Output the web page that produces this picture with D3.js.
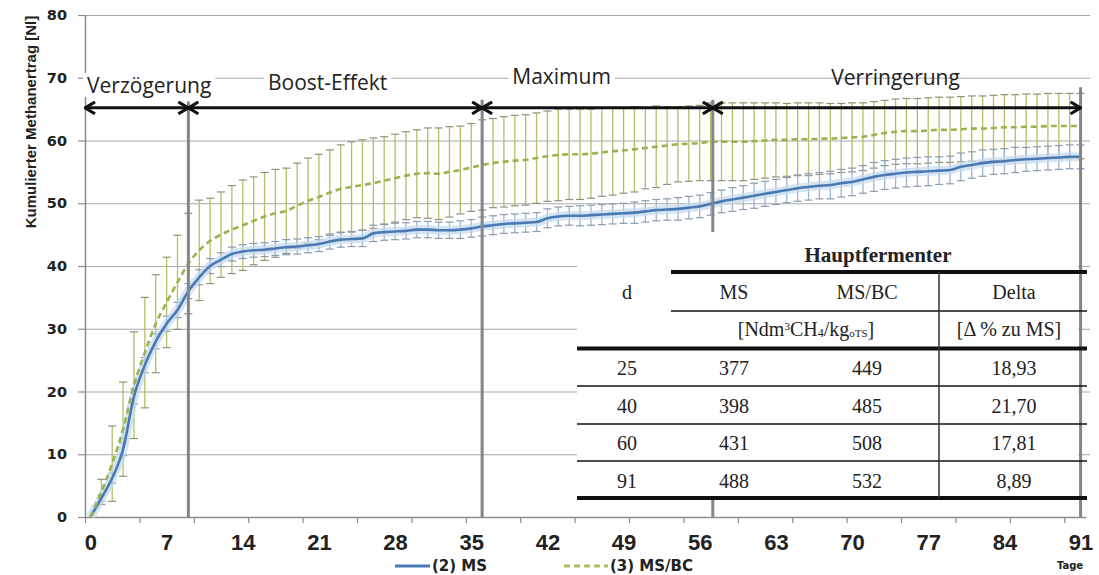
<!DOCTYPE html>
<html>
<head>
<meta charset="utf-8">
<script src="https://cdn.jsdelivr.net/npm/d3@7"></script>
<style>
  body { margin: 0; background: #fff; }
  svg { display: block; }
</style>
</head>
<body>
<div id="chart"></div>
<script>
// --- Data ---
// daily cumulative methane yield [Nl], day 0..91
const msMean = [
  0, 3, 6.2, 10.8, 19.2, 24.2, 28, 30.8, 33, 36,
  38.2, 40, 41, 41.9, 42.3, 42.5, 42.6, 42.8, 43, 43.1,
  43.3, 43.5, 43.9, 44.2, 44.3, 44.4, 45.2, 45.4, 45.5, 45.6,
  45.8, 45.8, 45.7, 45.7, 45.8, 46, 46.3, 46.5, 46.7, 46.8,
  46.9, 47, 47.6, 47.9, 48, 48, 48.1, 48.2, 48.3, 48.4,
  48.5, 48.7, 48.9, 49, 49.1, 49.3, 49.5, 49.9, 50.3, 50.6,
  50.9, 51.2, 51.5, 51.8, 52.1, 52.4, 52.6, 52.8, 52.9, 53.2,
  53.4, 53.8, 54.2, 54.5, 54.7, 54.9, 55, 55.1, 55.2, 55.3,
  55.8, 56.1, 56.4, 56.6, 56.7, 56.9, 57, 57.1, 57.2, 57.3,
  57.4, 57.4
];
const msErr = [
  0, 0.5, 0.8, 1, 1.2, 1.2, 1.2, 1.2, 1.2, 1.2,
  1.2, 1.2, 1.1, 1.1, 1.1, 1.1, 1.1, 1.1, 1.2, 1.2,
  1.2, 1.2, 1.2, 1.2, 1.2, 1.3, 1.3, 1.3, 1.3, 1.3,
  1.3, 1.3, 1.3, 1.3, 1.4, 1.4, 1.5, 1.5, 1.5, 1.5,
  1.5, 1.5, 1.5, 1.5, 1.5, 1.6, 1.6, 1.6, 1.6, 1.6,
  1.7, 1.7, 1.7, 1.7, 1.8, 1.8, 1.8, 1.8, 1.8, 1.9,
  1.9, 2, 2, 2, 2, 2.1, 2.1, 2.1, 2.2, 2.2,
  2.2, 2.2, 2.3, 2.3, 2.3, 2.3, 2.3, 2.3, 2.2, 2.2,
  2.2, 2.1, 2.1, 2, 2, 2, 1.9, 1.9, 1.9, 1.9,
  1.9, 1.9
];
const msbcMean = [
  0, 4, 8.5, 14, 21, 26.2, 30.8, 34.2, 37.4, 40.4,
  42.5, 44, 45, 45.8, 46.5, 47.2, 47.9, 48.4, 48.8, 49.6,
  50.4, 51, 51.7, 52.3, 52.6, 52.9, 53.2, 53.6, 54, 54.4,
  54.7, 54.8, 54.7, 55, 55.3, 55.7, 56.1, 56.4, 56.6, 56.8,
  56.9, 57.2, 57.5, 57.7, 57.8, 57.8, 57.9, 58.1, 58.3, 58.4,
  58.6, 58.8, 59, 59.2, 59.4, 59.5, 59.6, 59.8, 59.8, 59.8,
  59.8, 59.9, 60, 60.1, 60.1, 60.2, 60.2, 60.3, 60.3, 60.4,
  60.5, 60.6, 60.9, 61.2, 61.4, 61.5, 61.5, 61.6, 61.7, 61.7,
  61.8, 61.9, 61.9, 62, 62.1, 62.1, 62.2, 62.2, 62.3, 62.3,
  62.3, 62.3
];
const msbcErr = [
  0, 2, 6, 7.5, 8.5, 8.8, 7.8, 7.2, 7.5, 8,
  8, 6.8, 6.8, 7, 7.2, 7, 7, 7, 6.8, 6.8,
  6.8, 6.8, 6.8, 7, 7.2, 7.2, 7.2, 7, 7, 7,
  7, 7.2, 7.3, 7.2, 7, 7, 7.2, 7.1, 7.2, 7.2,
  7.2, 7.2, 7.2, 7.3, 7.2, 7.2, 7.1, 7, 7, 6.8,
  6.8, 6.5, 6.5, 6.2, 6, 6, 6, 6.2, 6.2, 6.2,
  6.2, 6.1, 6, 5.9, 5.8, 5.8, 5.8, 5.7, 5.6, 5.5,
  5.5, 5.4, 5.3, 5.2, 5.2, 5.2, 5.2, 5.2, 5.2, 5.2,
  5.2, 5.2, 5.2, 5.2, 5.2, 5.2, 5.2, 5.2, 5.2, 5.2,
  5.2, 5.2
];
const xLabels = [0, 7, 14, 21, 28, 35, 42, 49, 56, 63, 70, 77, 84, 91];
const xTickMarks = [-0.5, 4.5, 9.5, 14.5, 19.5, 24.5, 29.5, 34.5, 39.5, 44.5, 49.5, 54.5, 59.5, 64.5, 69.5, 74.5, 79.5, 84.5, 89.5];
const yTicks = [0, 10, 20, 30, 40, 50, 60, 70, 80];
const seriesNames = ['(2) MS', '(3) MS/BC'];

// phases: borders in days, names
const phaseNames = ['Verzögerung', 'Boost-Effekt', 'Maximum', 'Verringerung'];
const phaseBounds = [-0.5, 9, 36, 57.2, 91];
const phaseLineTop = [66.2, 66.5, 66.5, 68.5];

// table
const tableDays = [25, 40, 60, 91];
const tableMS = [377, 398, 431, 488];
const tableMSBC = [449, 485, 508, 532];
const tableDelta = ['18,93', '21,70', '17,81', '8,89'];

// --- Chart ---
const width = 1099, height = 575;
const svg = d3.select('#chart').append('svg')
  .attr('width', width)
  .attr('height', height);
svg.append('rect').attr('width', width).attr('height', height).attr('fill', '#fff');

const x = d3.scaleLinear().domain([-0.5, 91.5]).range([85, 1086]);
const y = d3.scaleLinear().domain([0, 80]).range([517, 15]);
const gridRight = 1090;
const narrow = '"Liberation Sans Narrow", "Arial Narrow", sans-serif';

// gridlines
svg.append('g')
  .attr('transform', 'translate(85,0)')
  .call(d3.axisLeft(y).tickValues(yTicks.filter(v => v > 0)).tickSize(-(gridRight - 85)).tickFormat(''))
  .call(g => g.select('.domain').remove())
  .call(g => g.selectAll('line').attr('stroke', '#a9a9a9').attr('stroke-width', 1.2));

// y axis
svg.append('g')
  .attr('transform', 'translate(85,0)')
  .call(d3.axisLeft(y).tickValues(yTicks).tickSize(7).tickSizeOuter(0).tickPadding(11))
  .call(g => g.select('.domain').attr('stroke', '#8c8c8c').attr('stroke-width', 1.5))
  .call(g => g.selectAll('line').attr('stroke', '#8c8c8c').attr('stroke-width', 1.2))
  .call(g => g.selectAll('text')
    .attr('font-family', '"DejaVu Sans", sans-serif')
    .attr('font-weight', 'bold')
    .attr('font-size', 14.5)
    .attr('fill', '#222'));

svg.append('text')
  .attr('transform', 'translate(36,122) rotate(-90)')
  .attr('text-anchor', 'middle')
  .attr('font-family', narrow)
  .attr('font-weight', 'bold')
  .attr('font-size', 15)
  .attr('fill', '#222')
  .text('Kumulierter Methanertrag [Nl]');

// x axis: tick marks every 5 days, labels every 7 days
svg.append('g')
  .attr('transform', 'translate(0,517)')
  .call(d3.axisBottom(x).tickValues(xTickMarks).tickSize(6).tickSizeOuter(0).tickFormat(''))
  .call(g => g.select('.domain').attr('stroke', '#8c8c8c').attr('stroke-width', 1.5))
  .call(g => g.selectAll('line').attr('stroke', '#8c8c8c').attr('stroke-width', 1.2));

svg.append('g')
  .attr('transform', 'translate(0,517)')
  .call(d3.axisBottom(x).tickValues(xLabels).tickSize(0).tickPadding(17))
  .call(g => g.select('.domain').remove())
  .call(g => g.selectAll('text')
    .attr('font-family', narrow)
    .attr('font-weight', 'bold')
    .attr('font-size', 22)
    .attr('fill', '#222'));

svg.append('text')
  .attr('x', 1070).attr('y', 569)
  .attr('text-anchor', 'middle')
  .attr('font-family', '"DejaVu Sans", sans-serif')
  .attr('font-weight', 'bold')
  .attr('font-size', 10)
  .attr('fill', '#222')
  .text('Tage');

// --- Error bars ---
function drawErrorBars(mean, err, color, capColor) {
  const g = svg.append('g');
  mean.forEach((m, i) => {
    const e = err[i];
    if (!e) return;
    g.append('line')
      .attr('x1', x(i)).attr('x2', x(i))
      .attr('y1', y(m - e)).attr('y2', y(m + e))
      .attr('stroke', color).attr('stroke-width', 1.3);
    [m - e, m + e].forEach(v => {
      g.append('line')
        .attr('x1', x(i) - 4).attr('x2', x(i) + 4)
        .attr('y1', y(v)).attr('y2', y(v))
        .attr('stroke', capColor).attr('stroke-width', 1.2);
    });
  });
}
drawErrorBars(msbcMean, msbcErr, '#b4bf63', '#8e927a');
drawErrorBars(msMean, msErr, '#9cb4cf', '#8a9bb0');

// --- Lines ---
const line = d3.line().x((d, i) => x(i)).y(d => y(d)).curve(d3.curveMonotoneX);
svg.append('path').datum(msMean)
  .attr('fill', 'none').attr('stroke', '#c3d8ee').attr('stroke-width', 9).attr('opacity', 0.7)
  .attr('d', line);
svg.append('path').datum(msMean)
  .attr('fill', 'none').attr('stroke', '#4a78b3').attr('stroke-width', 2.6)
  .attr('d', line);
svg.append('path').datum(msbcMean)
  .attr('fill', 'none').attr('stroke', '#98b44e').attr('stroke-width', 2.6)
  .attr('stroke-dasharray', '6,4')
  .attr('d', line);

// --- Phases ---
phaseBounds.slice(1).forEach((d, i) => {
  svg.append('line')
    .attr('x1', x(d)).attr('x2', x(d))
    .attr('y1', y(phaseLineTop[i])).attr('y2', y(0))
    .attr('stroke', '#858585').attr('stroke-width', 3);
});

svg.append('defs').append('marker')
  .attr('id', 'chev')
  .attr('viewBox', '0 0 12 14')
  .attr('refX', 11).attr('refY', 7)
  .attr('markerWidth', 12).attr('markerHeight', 14)
  .attr('markerUnits', 'userSpaceOnUse')
  .attr('orient', 'auto-start-reverse')
  .append('path')
  .attr('d', 'M1,1 L11,7 L1,13')
  .attr('fill', 'none').attr('stroke', '#111').attr('stroke-width', 3);

phaseNames.forEach((name, i) => {
  svg.append('line')
    .attr('x1', x(phaseBounds[i])).attr('x2', x(phaseBounds[i + 1]))
    .attr('y1', y(65.2)).attr('y2', y(65.2))
    .attr('stroke', '#111').attr('stroke-width', 3)
    .attr('marker-start', 'url(#chev)')
    .attr('marker-end', 'url(#chev)');
});

const labelPos = [{d: 5.4, v: 67.6, bg: true}, {d: 21.8, v: 68.1, bg: true}, {d: 43.3, v: 69.0, bg: true}, {d: 74, v: 68.8, bg: false}];
phaseNames.forEach((name, i) => {
  const p = labelPos[i];
  const t = svg.append('text')
    .attr('x', x(p.d)).attr('y', y(p.v))
    .attr('text-anchor', 'middle')
    .attr('font-family', '"Open Sans", sans-serif')
    .attr('font-size', 21)
    .attr('fill', '#222')
    .text(name);
  if (p.bg) {
    const b = t.node().getBBox();
    svg.insert('rect', () => t.node())
      .attr('x', b.x - 4).attr('y', b.y + 2)
      .attr('width', b.width + 8).attr('height', b.height - 4)
      .attr('fill', '#fff');
  }
});

// --- Table ---
const tb = svg.append('g').attr('font-family', '"Liberation Serif", "Times New Roman", serif').attr('fill', '#222');
tb.append('rect').attr('x', 577).attr('y', 232).attr('width', 1078 - 577).attr('height', 498 - 232).attr('fill', '#fff');
const colX = [627, 734, 867, 1014];
function hr(yy, x1, w) {
  tb.append('line').attr('x1', x1).attr('x2', 1087).attr('y1', yy).attr('y2', yy)
    .attr('stroke', '#111').attr('stroke-width', w);
}
hr(272, 671, 4);
hr(311, 671, 1.5);
hr(348.5, 577, 4);
hr(386, 577, 1.5);
hr(424, 577, 1.5);
hr(461, 577, 1.5);
hr(498, 577, 4);
tb.append('line').attr('x1', 939).attr('x2', 939).attr('y1', 272).attr('y2', 498)
  .attr('stroke', '#333').attr('stroke-width', 1.5);

function cell(cx, cy, txt, opts = {}) {
  return tb.append('text').attr('x', cx).attr('y', cy)
    .attr('text-anchor', 'middle')
    .attr('font-size', opts.size || 20)
    .attr('font-weight', opts.bold ? 'bold' : null)
    .text(txt);
}
cell(878, 262, 'Hauptfermenter', {bold: true, size: 21});
cell(colX[0], 299, 'd');
cell(colX[1], 299, 'MS');
cell(colX[2], 299, 'MS/BC');
cell(colX[3], 299, 'Delta');

const unit = tb.append('text').attr('x', 806).attr('y', 336).attr('text-anchor', 'middle').attr('font-size', 20);
unit.append('tspan').text('[Ndm');
unit.append('tspan').attr('font-size', 11).attr('dy', -6).text('3');
unit.append('tspan').attr('dy', 6).text('CH');
unit.append('tspan').attr('font-size', 12).attr('dy', 1).text('4');
unit.append('tspan').attr('dy', -1).text('/kg');
unit.append('tspan').attr('font-size', 11).attr('dy', 1).text('oTS');
unit.append('tspan').attr('dy', -1).text(']');
cell(1009, 336, '[Δ %  zu MS]');

tableDays.forEach((d, i) => {
  const yy = 375 + i * 37.5;
  cell(colX[0], yy, d);
  cell(colX[1], yy, tableMS[i]);
  cell(colX[2], yy, tableMSBC[i]);
  cell(colX[3], yy, tableDelta[i]);
});

// --- Legend ---
const lg = svg.append('g').attr('font-family', '"DejaVu Sans", sans-serif').attr('font-weight', 'bold').attr('font-size', 15).attr('fill', '#222');
lg.append('line').attr('x1', 395).attr('x2', 430).attr('y1', 566).attr('y2', 566)
  .attr('stroke', '#4a78b3').attr('stroke-width', 3);
lg.append('text').attr('x', 432).attr('y', 571).text(seriesNames[0]);
lg.append('line').attr('x1', 564).attr('x2', 608).attr('y1', 566).attr('y2', 566)
  .attr('stroke', '#a8c060').attr('stroke-width', 3).attr('stroke-dasharray', '6,4');
lg.append('text').attr('x', 610).attr('y', 571).text(seriesNames[1]);
</script>
</body>
</html>
